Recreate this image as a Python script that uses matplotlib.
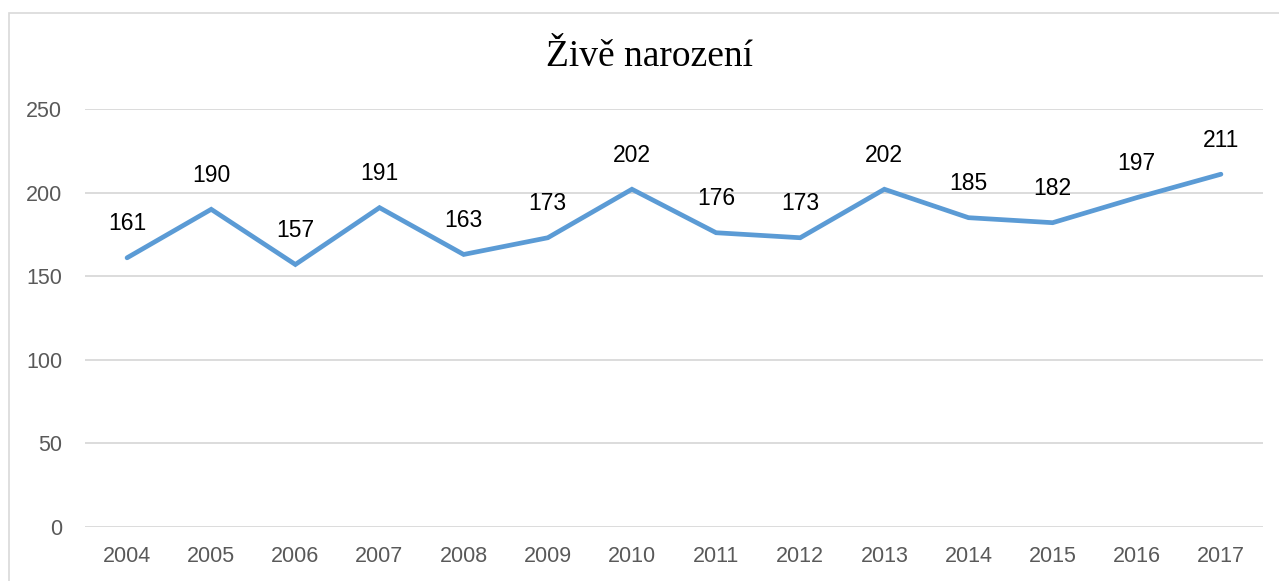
import matplotlib
matplotlib.use("Agg")
import matplotlib.pyplot as plt
from matplotlib.patches import Rectangle

years = ["2004", "2005", "2006", "2007", "2008", "2009", "2010",
         "2011", "2012", "2013", "2014", "2015", "2016", "2017"]
births = [161, 190, 157, 191, 163, 173, 202, 176, 173, 202, 185, 182, 197, 211]
yticks = [0, 50, 100, 150, 200, 250]
title = "Živě narození"

W, H = 1279, 581
fig = plt.figure(figsize=(W / 100, H / 100), dpi=100)
fig.patch.set_facecolor("white")

# chart border (cropped on right/bottom)
fig.patches.append(Rectangle((9 / W, -0.05), 1.2, 1 - 13 / H + 0.05,
                             transform=fig.transFigure, fill=False,
                             edgecolor="#D9D9D9", linewidth=1.2, zorder=0))

ax = fig.add_axes([85 / W, 1 - 527 / H, (1263 - 85) / W, (527 - 109) / H])
x = list(range(len(years)))
ax.plot(x, births, color="#5B9BD5", linewidth=3.4, solid_capstyle="round",
        solid_joinstyle="miter", zorder=3)

for xi, v in zip(x, births):
    ax.annotate(str(v), (xi, v), xytext=(0, 24.5), textcoords="offset points",
                ha="center", va="center", fontsize=16.5, color="black",
                family="Liberation Sans")

ax.set_xlim(-0.5, len(years) - 0.5)
ax.set_ylim(0, 250)
ax.set_yticks(yticks)
ax.set_xticks(x)
ax.set_xticklabels(years)
ax.tick_params(axis="both", length=0, labelsize=15.5, labelcolor="#595959")
ax.tick_params(axis="y", pad=16.5)
ax.tick_params(axis="x", pad=14)
for lab in ax.get_xticklabels() + ax.get_yticklabels():
    lab.set_family("Liberation Sans")
ax.grid(axis="y", color="#D9D9D9", linewidth=1.3)
ax.set_axisbelow(True)
for s in ax.spines.values():
    s.set_visible(False)

fig.text(650 / W, 1 - 57 / H, title, ha="center", va="center",
         fontsize=27, family="Liberation Serif", color="black")

fig.savefig("out.png", dpi=100)
